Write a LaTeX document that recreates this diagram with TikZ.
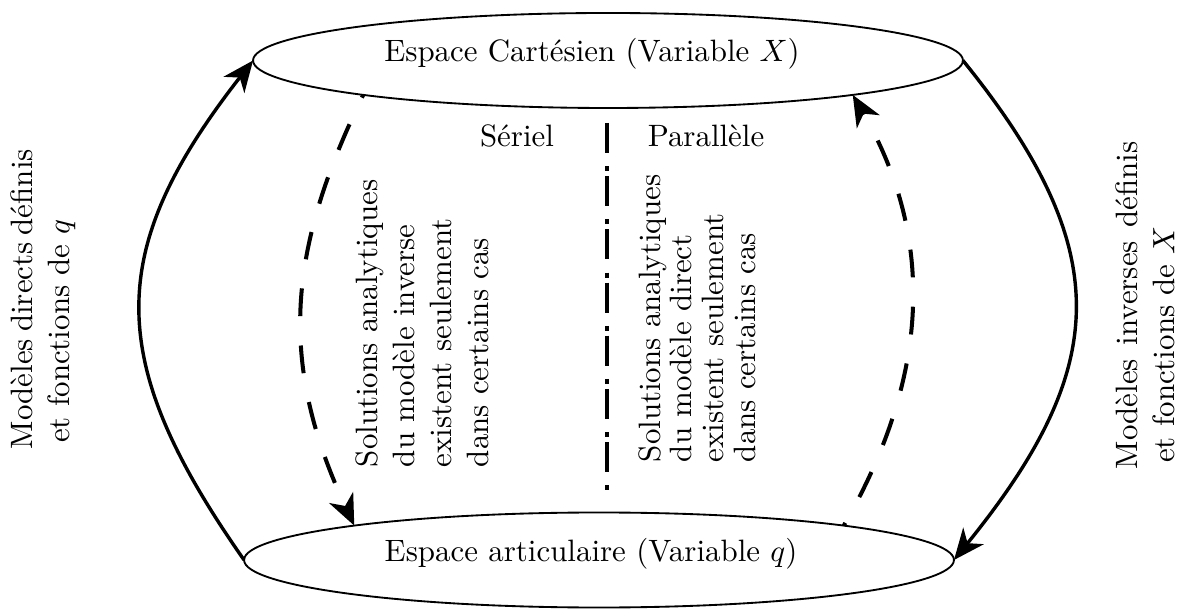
\documentclass[tikz,border=0pt]{standalone}
\usepackage{tikz}
\usetikzlibrary{shapes, arrows.meta, positioning}
\tikzset{
	espace/.style={ellipse, draw, semithick, minimum width=8.07cm, minimum height=1.08cm, inner sep=0pt, outer sep=0pt},
	vertical/.style={rotate=90, align=left, anchor=west},
	bord/.style={rotate=90, align=justify, anchor=west},
	fleche/.style={line width=1.1pt, -{Stealth[length=10pt, width=8.5pt, inset=3pt]}},
	tirets/.style={fleche, line width=1.3pt, dash pattern=on 9pt off 9.5pt, dash phase=8pt},
	axe/.style={line width=1.6pt, dash pattern=on 9.7pt off 4.3pt on 1.6pt off 1.6pt}
}
\begin{document}
\begin{tikzpicture}[x=0.01137cm, y=0.01137cm]
		\useasboundingbox (0,0) rectangle (1180,610);
		\node[espace] (cart) at (608,549.5) {};
		\node[espace] (art) at (599,50) {};
		\node (carttxt) at (592,556) {Espace Cartésien (Variable $X$)};
		\node (arttxt) at (591,56) {Espace articulaire (Variable $q$)};
		% separation serie / parallele
		\coordinate (axehaut) at (607,487);
		\coordinate (axebas) at (607,115);
		\draw[axe] (axehaut) -- (axebas);
		\node (serie) at (517,474) {Sériel};
		\node (para) at (706,474) {Parallèle};
		\node[vertical] (solserie) at (422,132) {Solutions analytiques\\du modèle inverse\\existent seulement\\dans certains cas};
		\node[vertical] (solpara) at (697,137) {Solutions analytiques\\[-1.8pt]du modèle direct\\[-1.8pt]existent seulement\\[-1.8pt]dans certains cas};
		\node[bord, text width=97pt] (direct) at (43,150) {Modèles directs définis\linebreak\hspace*{2pt}et fonctions de $q$};
		\node[bord, text width=106pt] (inverse) at (1145,130) {Modèles inverses définis\linebreak\hspace*{2pt}et fonctions de $X$};
		% modeles directs et inverses
		\draw[fleche] (art.west) to[out=125, in=-128, looseness=1.24] (cart.west);
		\draw[fleche] (cart.east) to[out=-51, in=51, looseness=1.26] (art.east);
		\draw[tirets] (cart.188) to[out=244, in=115, looseness=1.05] (art.172);
		\draw[tirets] (art.8) to[out=60, in=-60, looseness=1.0] (cart.352);
	\end{tikzpicture}
\end{document}
